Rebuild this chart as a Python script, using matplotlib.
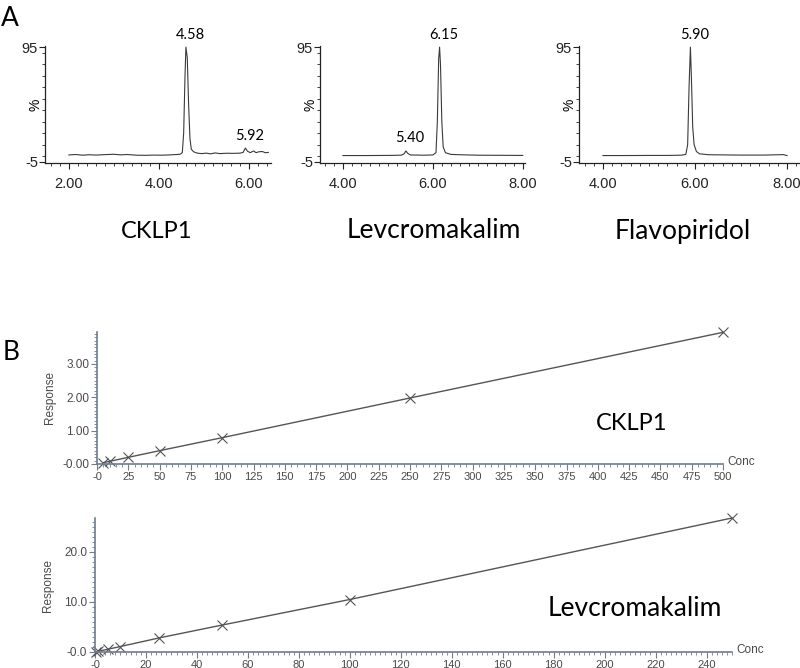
import matplotlib
matplotlib.use("Agg")
import matplotlib.pyplot as plt
from matplotlib.ticker import MultipleLocator, FixedLocator, FixedFormatter

plt.rcParams['font.family'] = ['Liberation Sans Narrow', 'Liberation Sans', 'DejaVu Sans']

LABEL_FONT = ['Lato', 'DejaVu Sans']

# ---------------- Panel A: chromatograms ----------------
compound_names = ["CKLP1", "Levcromakalim", "Flavopiridol"]

ckpl1_time = [2.00, 2.15, 2.30, 2.45, 2.60, 2.80, 3.00, 3.15, 3.30, 3.50, 3.70, 3.90, 4.05, 4.20,
              4.35, 4.47, 4.52, 4.55, 4.58, 4.60, 4.63, 4.66, 4.69, 4.72, 4.77, 4.85, 4.95,
              5.05, 5.15, 5.25, 5.35, 5.50, 5.65, 5.80, 5.87, 5.92, 5.97, 6.03, 6.10, 6.16,
              6.22, 6.30, 6.36, 6.43]
ckpl1_signal = [1.0, 1.4, 0.8, 1.2, 0.9, 1.3, 1.6, 1.1, 1.4, 0.8, 0.7, 0.9, 0.8, 1.0,
                1.3, 1.6, 3.0, 20.0, 70.0, 95.0, 86.0, 45.0, 15.0, 6.0, 3.8, 2.6, 2.2,
                2.6, 2.0, 2.8, 2.2, 2.5, 2.4, 2.6, 3.2, 7.0, 4.2, 3.0, 4.5, 3.0,
                3.8, 4.0, 3.0, 3.2]
ckpl1_peaks = [4.58, 5.92]
ckpl1_peak_x = [4.60, 5.92]
ckpl1_peak_heights = [95.0, 7.0]

levcro_time = [4.00, 4.50, 5.00, 5.30, 5.36, 5.40, 5.44, 5.50, 5.80, 6.00, 6.07, 6.10,
               6.13, 6.15, 6.17, 6.20, 6.23, 6.28, 6.40, 6.60, 7.00, 7.50, 8.00]
levcro_signal = [0.5, 0.5, 0.6, 0.8, 2.0, 4.5, 2.5, 1.0, 0.8, 1.0, 3.0, 30.0,
                 85.0, 95.0, 80.0, 30.0, 8.0, 3.0, 1.5, 1.2, 0.8, 0.7, 0.6]
levcro_peaks = [5.40, 6.15]
levcro_peak_x = [5.40, 6.15]
levcro_peak_heights = [4.5, 95.0]

flavo_time = [4.00, 4.50, 5.00, 5.40, 5.70, 5.80, 5.84, 5.87, 5.90, 5.92, 5.95, 5.98,
              6.03, 6.10, 6.30, 7.00, 7.50, 7.80, 7.92, 8.00]
flavo_signal = [0.5, 0.5, 0.6, 0.6, 0.8, 1.5, 10.0, 60.0, 95.0, 70.0, 25.0, 10.0,
                4.0, 2.0, 1.2, 0.9, 0.9, 1.2, 1.3, 0.5]
flavo_peaks = [5.90]
flavo_peak_x = [5.90]
flavo_peak_heights = [95.0]

chrom_xlims = [(1.47, 6.49), (3.49, 8.05), (3.48, 8.28)]
chrom_xticks = [[2.0, 4.0, 6.0], [4.0, 6.0, 8.0], [4.0, 6.0, 8.0]]
chrom_ytick_vals = [-5, 95]
chrom_ytick_labels = ["-5", "95"]

# ---------------- Panel B: calibration curves ----------------
cklp1_conc = [5, 10, 25, 50, 100, 250, 500]
cklp1_resp = [0.04, 0.08, 0.20, 0.40, 0.79, 1.98, 3.95]
cklp1_xticks = [0, 25, 50, 75, 100, 125, 150, 175, 200, 225, 250, 275, 300, 325, 350,
                375, 400, 425, 450, 475, 500]
cklp1_xticklabels = ["-0"] + [str(v) for v in cklp1_xticks[1:]]
cklp1_yticks = [0.0, 1.0, 2.0, 3.0]
cklp1_yticklabels = ["-0.00", "1.00", "2.00", "3.00"]

levcro_conc = [0.5, 1, 5, 10, 25, 50, 100, 250]
levcro_resp = [0.05, 0.12, 0.55, 1.1, 2.8, 5.4, 10.5, 26.8]
levcro_xticks = [0, 20, 40, 60, 80, 100, 120, 140, 160, 180, 200, 220, 240]
levcro_xticklabels = ["-0"] + [str(v) for v in levcro_xticks[1:]]
levcro_yticks = [0.0, 10.0, 20.0]
levcro_yticklabels = ["-0.0", "10.0", "20.0"]

W, H = 800, 668
fig = plt.figure(figsize=(W / 100, H / 100), dpi=100)


def box(l, t, r, b):
    return [l / W, 1 - b / H, (r - l) / W, (b - t) / H]


chrom_boxes = [box(45, 46, 271, 163), box(320, 46, 525, 163), box(579, 46, 800, 163)]
chrom_data = [(ckpl1_time, ckpl1_signal, ckpl1_peaks, ckpl1_peak_x, ckpl1_peak_heights),
              (levcro_time, levcro_signal, levcro_peaks, levcro_peak_x, levcro_peak_heights),
              (flavo_time, flavo_signal, flavo_peaks, flavo_peak_x, flavo_peak_heights)]
name_x = [157, 434, 683]
name_size = [17, 19, 19]

for i, (bx, (t, s, pk, pkx, ph)) in enumerate(zip(chrom_boxes, chrom_data)):
    ax = fig.add_axes(bx)
    ax.plot(t, s, color="#3a3a3a", lw=0.8)
    ax.set_xlim(*chrom_xlims[i])
    ax.set_ylim(-6, 96)
    for sp in ("top", "right"):
        ax.spines[sp].set_visible(False)
    for sp in ("left", "bottom"):
        ax.spines[sp].set_color("#222222")
        ax.spines[sp].set_linewidth(0.9)
    ax.xaxis.set_major_locator(FixedLocator(chrom_xticks[i]))
    ax.xaxis.set_major_formatter(FixedFormatter([f"{v:.2f}" for v in chrom_xticks[i]]))
    ax.xaxis.set_minor_locator(MultipleLocator(0.2))
    ax.yaxis.set_major_locator(FixedLocator(chrom_ytick_vals))
    ax.yaxis.set_major_formatter(FixedFormatter(chrom_ytick_labels))
    ax.yaxis.set_minor_locator(MultipleLocator(10))
    ax.tick_params(axis="both", which="major", length=4, width=0.8, colors="#222222",
                   labelsize=10.5, pad=1)
    ax.tick_params(axis="both", which="minor", length=2, width=0.6, colors="#222222")
    ax.tick_params(axis="x", which="major", pad=6)
    ax.set_ylabel("%", fontsize=10)
    ax.yaxis.set_label_coords(-0.01, 0.5)
    for lab_v, x_pk, y_pk in zip(pk, pkx, ph):
        ax.annotate(f"{lab_v:.2f}", xy=(x_pk, y_pk), xytext=(3, 4), textcoords="offset points",
                    ha="center", va="bottom", fontsize=10.5, family=LABEL_FONT,
                    annotation_clip=False)
    fig.text(name_x[i] / W, 1 - 231 / H, compound_names[i], ha="center", va="center",
             fontsize=name_size[i], family=LABEL_FONT)

fig.text(1 / W, 1 - 18 / H, "A", ha="left", va="center", fontsize=19, family=LABEL_FONT)
fig.text(3 / W, 1 - 353 / H, "B", ha="left", va="center", fontsize=19, family=LABEL_FONT)

# ---------------- calibration axes ----------------
AX_COL = "#6f7d8f"
TXT_COL = "#4a4a4a"

cal_specs = [
    dict(box=box(97, 332, 723, 464), conc=cklp1_conc, resp=cklp1_resp, xlim=(0, 500),
         ylim=(0, 3.96), xt=cklp1_xticks, xtl=cklp1_xticklabels, yt=cklp1_yticks,
         ytl=cklp1_yticklabels, xminor=5, yminor=0.1, name="CKLP1", name_xy=(632, 423),
         name_size=17),
    dict(box=box(95, 518, 732, 652), conc=levcro_conc, resp=levcro_resp, xlim=(0, 250),
         ylim=(0, 26.8), xt=levcro_xticks, xtl=levcro_xticklabels, yt=levcro_yticks,
         ytl=levcro_yticklabels, xminor=2, yminor=1.0, name="Levcromakalim",
         name_xy=(635, 608), name_size=19),
]

for spec in cal_specs:
    ax = fig.add_axes(spec["box"])
    ax.plot(spec["conc"], spec["resp"], color="#555555", lw=1.0, marker="x", ms=7,
            mew=0.8, mec="#555555", clip_on=False)
    ax.set_xlim(*spec["xlim"])
    ax.set_ylim(*spec["ylim"])
    for sp in ("top", "right"):
        ax.spines[sp].set_visible(False)
    for sp in ("left", "bottom"):
        ax.spines[sp].set_color(AX_COL)
        ax.spines[sp].set_linewidth(1.2)
    ax.xaxis.set_major_locator(FixedLocator(spec["xt"]))
    ax.xaxis.set_major_formatter(FixedFormatter(spec["xtl"]))
    ax.xaxis.set_minor_locator(MultipleLocator(spec["xminor"]))
    ax.yaxis.set_major_locator(FixedLocator(spec["yt"]))
    ax.yaxis.set_major_formatter(FixedFormatter(spec["ytl"]))
    ax.yaxis.set_minor_locator(MultipleLocator(spec["yminor"]))
    ax.tick_params(axis="both", which="major", length=4, width=0.8, color=AX_COL,
                   labelcolor=TXT_COL, labelsize=8, pad=1.5)
    ax.tick_params(axis="y", which="major", labelsize=8.5)
    ax.tick_params(axis="both", which="minor", length=2.5, width=0.6, color=AX_COL)
    for lab in ax.get_xticklabels() + ax.get_yticklabels():
        lab.set_family(['Liberation Sans', 'DejaVu Sans'])
    ax.set_ylabel("Response", fontsize=8.5, color=TXT_COL, family=['Liberation Sans'])
    ax.yaxis.set_label_coords(-0.065, 0.5)
    ax.annotate("Conc", xy=(1, 0), xycoords="axes fraction", xytext=(3, 1.5),
                textcoords="offset points", ha="left", va="center", fontsize=8.5,
                color=TXT_COL, family=['Liberation Sans'], annotation_clip=False)
    nx, ny = spec["name_xy"]
    fig.text(nx / W, 1 - ny / H, spec["name"], ha="center", va="center",
             fontsize=spec["name_size"], family=LABEL_FONT)

fig.savefig("out.png", dpi=100, facecolor="white")
